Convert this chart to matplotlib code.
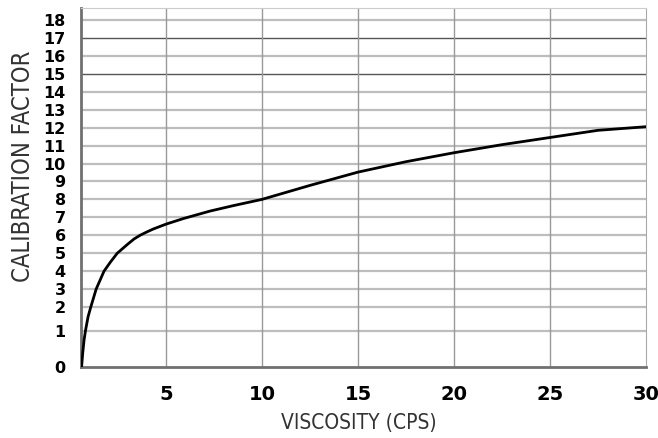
import numpy as np
import matplotlib
matplotlib.use("Agg")
import matplotlib.pyplot as plt

# curve
viscosity = [0.6, 0.66, 0.73, 0.80, 0.94, 1.08, 1.36, 1.77, 2.1, 2.46, 3.0,
             3.33, 3.65, 4.01, 4.34, 5.0, 5.9, 7.3, 8.5, 10,
             12.5, 15, 17.5, 20, 22.5, 25, 27.5, 30]
factor = [0, 0.39, 0.75, 1.0, 1.6, 2.0, 3.0, 4.0, 4.5, 5.0, 5.5,
          5.79, 6.0, 6.19, 6.35, 6.62, 6.93, 7.35, 7.65, 8.0,
          8.78, 9.52, 10.1, 10.6, 11.05, 11.45, 11.85, 12.05]

x_ticks = [5, 10, 15, 20, 25, 30]
y_ticks = list(range(0, 19))
dark_rows = [15, 17]

# the y axis of the original is stretched near zero (piecewise linear)
seg_vals = [0, 1, 2, 18, 18.67]
seg_pos = [0, 36, 60, 347, 359]

def fwd(v):
    return np.interp(v, seg_vals, seg_pos)

def inv(p):
    return np.interp(p, seg_pos, seg_vals)

fig = plt.figure(figsize=(6.58, 4.38), dpi=100)
ax = fig.add_axes([81 / 658, 1 - 367 / 438, (646 - 81) / 658, (367 - 8) / 438])
ax.set_yscale('function', functions=(fwd, inv))
ax.set_xlim(0.57, 30)
ax.set_ylim(0, 18.67)

# grid
for v in y_ticks[1:]:
    if v in dark_rows:
        ax.axhline(v, color='#555555', lw=1.0, zorder=1)
    else:
        ax.axhline(v, color='#bdbdbd', lw=1.6, zorder=1)
for v in x_ticks[:-1]:
    ax.axvline(v, color='#999999', lw=1.0, zorder=1)

ax.plot(viscosity, factor, color='black', lw=2.0, zorder=3, solid_capstyle='round',
        solid_joinstyle='round')

ax.set_xticks(x_ticks)
ax.set_yticks(y_ticks)
ax.set_xticklabels([str(t) for t in x_ticks], fontsize=14, fontweight='heavy',
                   family='DejaVu Sans')
ax.set_yticklabels([str(t) for t in y_ticks], fontsize=11.5, fontweight='heavy',
                   family='DejaVu Sans')
ax.tick_params(axis='x', length=0, pad=13)
ax.tick_params(axis='y', length=0, pad=11)
ax.minorticks_off()

for side in ['left', 'bottom']:
    ax.spines[side].set_color('#707070')
    ax.spines[side].set_linewidth(2)
ax.spines['right'].set_color('#aaaaaa')
ax.spines['top'].set_color('#cccccc')

label_font = ['Liberation Sans Narrow', 'DejaVu Sans']
ax.set_xlabel('VISCOSITY (CPS)', fontsize=15, family=label_font, color='#333333',
              fontstretch='condensed', fontweight='light')
ax.set_ylabel('CALIBRATION FACTOR', fontsize=17, family=label_font, color='#333333',
              fontstretch='condensed', fontweight='light')
ax.xaxis.set_label_coords(0.491, -0.128)
ax.yaxis.set_label_coords(-0.082, 0.56)

fig.savefig('out.png', dpi=100)
